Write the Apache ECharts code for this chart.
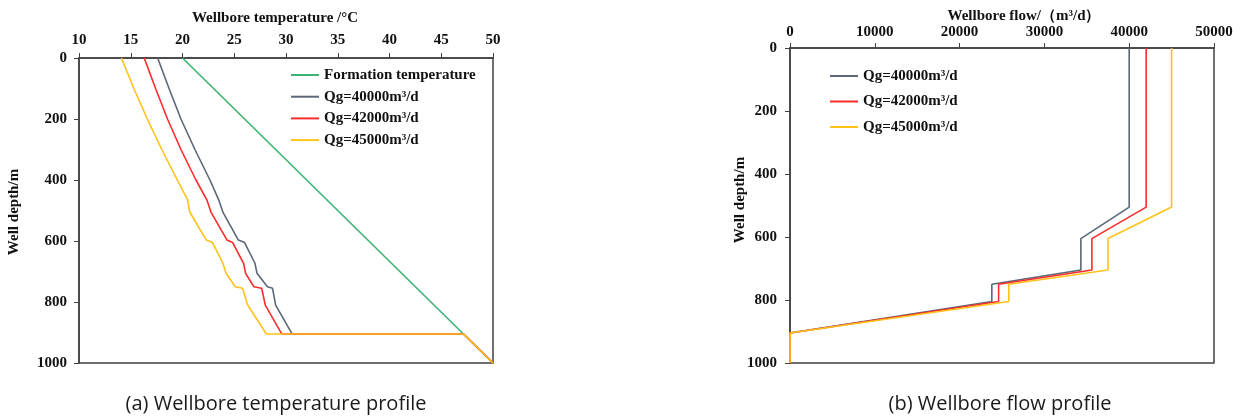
<!DOCTYPE html>
<html>
<head>
<meta charset="utf-8">
<script src="https://cdn.jsdelivr.net/npm/echarts@6/dist/echarts.min.js"></script>
<style>html,body{margin:0;padding:0;background:#fff;}#c{width:1244px;height:417px;}</style>
</head>
<body>
<div id="c"></div>
<script>
// ---- (a) Wellbore temperature profile ----
const tempTicks = [10, 15, 20, 25, 30, 35, 40, 45, 50];
const depthTicks = [0, 200, 400, 600, 800, 1000];
const formationDepth = [0, 1000];
const formationTemp = [20, 50];
const depthT = [0, 100, 200, 300, 400, 465, 505, 597, 605, 673, 706, 750, 755, 810, 905, 905, 1000];
const tempQ40 = [17.6, 18.7, 19.85, 21.2, 22.65, 23.5, 23.9, 25.4, 26.0, 27.0, 27.2, 28.2, 28.7, 29.0, 30.6, 47.15, 50];
const tempQ42 = [16.3, 17.4, 18.55, 19.85, 21.3, 22.35, 22.75, 24.3, 24.85, 25.9, 26.1, 26.9, 27.65, 28.0, 29.6, 47.15, 50];
const tempQ45 = [14.1, 15.3, 16.6, 18.0, 19.5, 20.5, 20.7, 22.3, 22.9, 23.9, 24.2, 25.1, 25.8, 26.3, 28.1, 47.15, 50];

// ---- (b) Wellbore flow profile ----
const flowTicks = [0, 10000, 20000, 30000, 40000, 50000];
const depthF = [0, 505, 605, 705, 750, 805, 905, 1000];
const flowQ40 = [40000, 40000, 34300, 34300, 23800, 23800, 0, 0];
const flowQ42 = [42000, 42000, 35600, 35600, 24600, 24600, 0, 0];
const flowQ45 = [45000, 45000, 37500, 37500, 25800, 25800, 0, 0];

const names = ['Formation temperature', 'Qg=40000m³/d', 'Qg=42000m³/d', 'Qg=45000m³/d'];
const colors = { form: '#3cb371', q40: '#5b6878', q42: '#ff2b2b', q45: '#ffc21a' };

function pairs(xs, ys) { return xs.map((x, i) => [x, ys[i]]); }

const serif = 'Liberation Serif, Times New Roman, serif';
const axisColor = '#404040';
const labelStyle = { fontFamily: serif, fontWeight: 'bold', fontSize: 15, color: '#111', formatter: v => String(v) };

function xAxisCfg(gridIndex, min, max, interval, margin) {
  return {
    gridIndex, type: 'value', position: 'top', min, max, interval,
    axisLine: { show: true, lineStyle: { color: axisColor, width: 1.5 } },
    axisTick: { show: true, length: 5, inside: false, lineStyle: { color: axisColor, width: 1 } },
    axisLabel: Object.assign({ margin }, labelStyle),
    splitLine: { show: false }
  };
}
function yAxisCfg(gridIndex, margin) {
  return {
    gridIndex, type: 'value', inverse: true, min: depthTicks[0], max: depthTicks[depthTicks.length - 1], interval: 200,
    axisLine: { show: true, lineStyle: { color: axisColor, width: 1.5 } },
    axisTick: { show: true, length: 5, inside: false, lineStyle: { color: axisColor, width: 1 } },
    axisLabel: Object.assign({ margin }, labelStyle),
    splitLine: { show: false }
  };
}
function lineSeries(name, data, color, xi, yi) {
  return {
    name, type: 'line', xAxisIndex: xi, yAxisIndex: yi, data,
    symbol: 'none', clip: false, smooth: false,
    lineStyle: { color, width: 1.6 }, itemStyle: { color }
  };
}

const legendText = { fontFamily: serif, fontWeight: 'bold', fontSize: 15, color: '#111', lineHeight: 16 };

const chart = echarts.init(document.getElementById('c'), null, { renderer: 'canvas' });
chart.setOption({
  backgroundColor: '#fff',
  animation: false,
  grid: [
    { left: 79, top: 58, width: 414, height: 305, show: true, borderColor: axisColor, borderWidth: 1.5, backgroundColor: 'transparent' },
    { left: 790, top: 48, width: 424, height: 315, show: true, borderColor: axisColor, borderWidth: 1.5, backgroundColor: 'transparent' }
  ],
  xAxis: [
    xAxisCfg(0, tempTicks[0], tempTicks[tempTicks.length - 1], 5, 10),
    xAxisCfg(1, flowTicks[0], flowTicks[flowTicks.length - 1], 10000, 8)
  ],
  yAxis: [yAxisCfg(0, 12), yAxisCfg(1, 13)],
  legend: [
    {
      data: names, orient: 'vertical', left: 291, top: 67, padding: 0, itemWidth: 28, itemHeight: 2, itemGap: 5.7,
      icon: 'rect', textStyle: legendText, selectedMode: false
    },
    {
      data: names.slice(1), orient: 'vertical', left: 830, top: 68, padding: 0, itemWidth: 28, itemHeight: 2, itemGap: 9.5,
      icon: 'rect', textStyle: legendText, selectedMode: false
    }
  ],
  series: [
    lineSeries(names[0], pairs(formationTemp, formationDepth), colors.form, 0, 0),
    lineSeries(names[1], pairs(tempQ40, depthT), colors.q40, 0, 0),
    lineSeries(names[2], pairs(tempQ42, depthT), colors.q42, 0, 0),
    lineSeries(names[3], pairs(tempQ45, depthT), colors.q45, 0, 0),
    lineSeries(names[1], pairs(flowQ40, depthF), colors.q40, 1, 1),
    lineSeries(names[2], pairs(flowQ42, depthF), colors.q42, 1, 1),
    lineSeries(names[3], pairs(flowQ45, depthF), colors.q45, 1, 1)
  ],
  graphic: [
    { type: 'text', x: 275, y: 18, style: { text: 'Wellbore temperature /°C', fontFamily: serif, fontWeight: 'bold', fontSize: 15, fill: '#111', align: 'center', verticalAlign: 'middle' } },
    { type: 'text', x: 1024, y: 16, style: { text: 'Wellbore flow/（m³/d）', fontFamily: serif, fontWeight: 'bold', fontSize: 15, fill: '#111', align: 'center', verticalAlign: 'middle' } },
    { type: 'text', x: 14, y: 212, rotation: Math.PI / 2, style: { text: 'Well depth/m', fontFamily: serif, fontWeight: 'bold', fontSize: 15, fill: '#111', align: 'center', verticalAlign: 'middle' } },
    { type: 'text', x: 740, y: 200, rotation: Math.PI / 2, style: { text: 'Well depth/m', fontFamily: serif, fontWeight: 'bold', fontSize: 15, fill: '#111', align: 'center', verticalAlign: 'middle' } },
    { type: 'text', x: 276, y: 404, style: { text: '(a) Wellbore temperature profile', fontFamily: 'Open Sans, Noto Sans, sans-serif', fontSize: 20, fill: '#1a1a1a', align: 'center', verticalAlign: 'middle' } },
    { type: 'text', x: 1000, y: 404, style: { text: '(b) Wellbore flow profile', fontFamily: 'Open Sans, Noto Sans, sans-serif', fontSize: 20, fill: '#1a1a1a', align: 'center', verticalAlign: 'middle' } }
  ]
});
</script>
</body>
</html>
